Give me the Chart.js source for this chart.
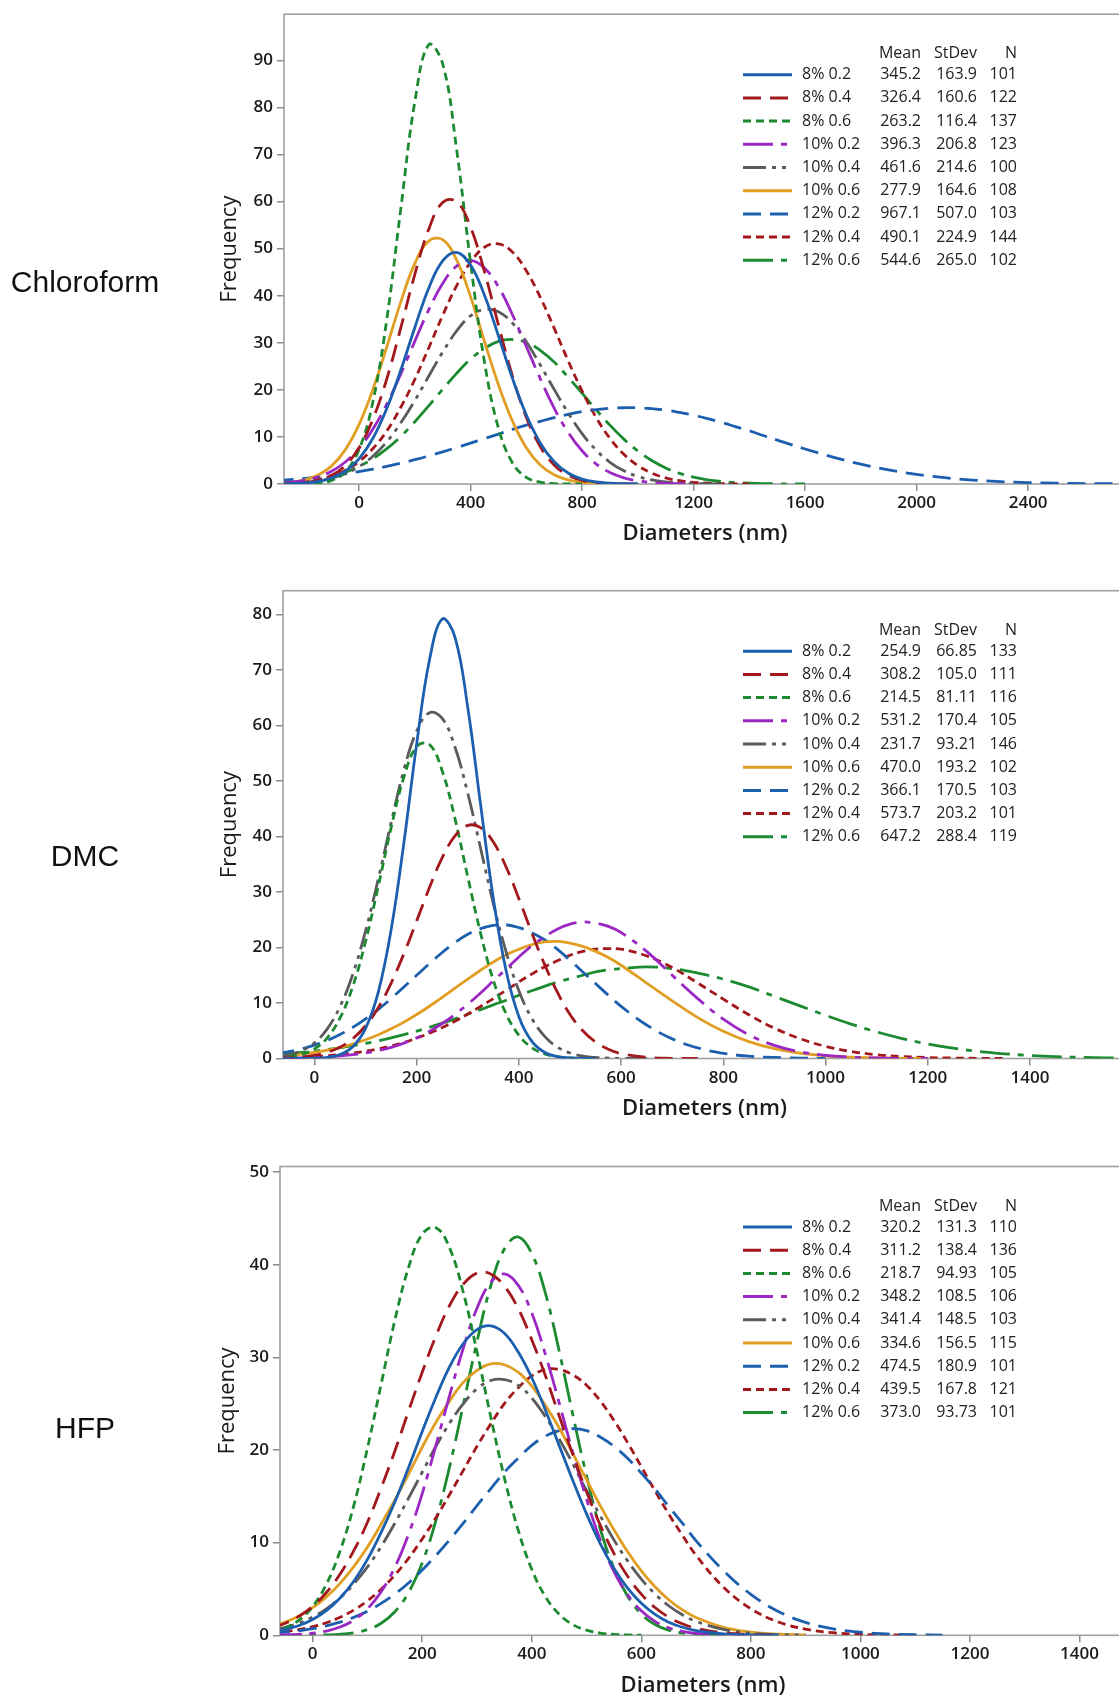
<!DOCTYPE html>
<html>
<head>
<meta charset="utf-8">
<script src="https://cdn.jsdelivr.net/npm/chart.js@4.4.0/dist/chart.umd.min.js"></script>
<style>
	html, body { margin: 0; padding: 0; background: #fff; overflow: hidden; }
	body { position: relative; width: 1119px; height: 1699px; }
	canvas { position: absolute; left: 0; }
	.solvent {
		position: absolute; left: 85px; transform: translateX(-50%); z-index: 2;
		font: 30px "Liberation Sans", Arial, sans-serif; line-height: 30px; color: #111; white-space: nowrap;
	}
</style>
</head>
<body>
<div class="solvent" style="top:267px">Chloroform</div>
<div class="solvent" style="top:841px">DMC</div>
<div class="solvent" style="top:1413px">HFP</div>
<canvas id="chlChart" width="1126" height="560" style="top:0px"></canvas>
<canvas id="dmcChart" width="1126" height="560" style="top:575px"></canvas>
<canvas id="hfpChart" width="1126" height="549" style="top:1150px"></canvas>
<script>
const seriesLabels = ['8% 0.2', '8% 0.4', '8% 0.6', '10% 0.2', '10% 0.4', '10% 0.6', '12% 0.2', '12% 0.4', '12% 0.6'];

// Chloroform: diameters (nm) where the fitted curves were read, and the curve heights
const chlX = [-300, -250, -200, -150, -100, -50, 0, 50, 100, 150, 200, 250, 300, 350, 400, 450, 500, 550, 600, 650,
	700, 750, 800, 850, 900, 950, 1000, 1050, 1100, 1150, 1200, 1250, 1300, 1350, 1400, 1450, 1500, 1550, 1600,
	1700, 1800, 1900, 2000, 2100, 2200, 2300, 2400, 2500, 2600, 2700, 2800];
const chl8_02 = [0.02, 0.07, 0.19, 0.52, 1.23, 2.68, 5.35, 9.71, 16.1, 24.2, 33.2, 41.6, 47.4, 49.2, 46.5, 40.1, 31.5, 22.5, 14.7, 8.72, 4.72, 2.33, 1.05, 0.43, 0.16, 0.05, 0];
const chl8_04 = [0.03, 0.10, 0.28, 0.74, 1.78, 3.89, 7.69, 13.8, 22.4, 33.2, 44.5, 54.1, 59.8, 60.0, 54.6, 45.1, 33.8, 23.0, 14.2, 7.96, 4.05, 1.87, 0.78, 0.30, 0.10, 0.03, 0];
const chl8_06 = [0, 0.01, 0.03, 0.17, 0.72, 2.51, 7.29, 17.5, 35.1, 58.5, 81.1, 93.3, 89.3, 71.1, 47.1, 25.9, 11.9, 4.52, 1.43, 0.38, 0.08, 0.01, 0];
const chl10_02 = [0.16, 0.36, 0.74, 1.45, 2.66, 4.63, 7.57, 11.7, 17.0, 23.4, 30.3, 37.0, 42.6, 46.3, 47.5, 45.9, 41.9, 36.0, 29.2, 22.4, 16.1, 11.0, 7.06, 4.28, 2.44, 1.32, 0.67, 0.32, 0.15, 0.06, 0.02];
const chl10_04 = [0.07, 0.15, 0.32, 0.64, 1.21, 2.17, 3.68, 5.91, 8.99, 13.0, 17.7, 22.9, 28.0, 32.5, 35.7, 37.1, 36.6, 34.2, 30.2, 25.3, 20.1, 15.1, 10.7, 7.23, 4.61, 2.79, 1.60, 0.87, 0.45, 0.22, 0.10, 0.04, 0.02, 0];
const chl10_06 = [0.11, 0.31, 0.77, 1.79, 3.75, 7.20, 12.6, 20.1, 29.2, 38.7, 46.8, 51.6, 51.9, 47.6, 39.8, 30.3, 21.1, 13.4, 7.72, 4.06, 1.96, 0.86, 0.34, 0.12, 0.04, 0];
const chl12_02 = [0.71, 0.91, 1.15, 1.43, 1.77, 2.17, 2.63, 3.16, 3.75, 4.42, 5.16, 5.96, 6.82, 7.73, 8.68, 9.64, 10.6, 11.6, 12.5, 13.3,
	14.1, 14.8, 15.4, 15.8, 16.1, 16.2, 16.2, 16.0, 15.7, 15.2, 14.6, 13.9, 13.1, 12.2, 11.3, 10.3, 9.33, 8.37, 7.44,
	5.71, 4.20, 2.98, 2.04, 1.34, 0.84, 0.51, 0.30, 0.17, 0.09, 0.05, 0.02];
const chl12_04 = [0.11, 0.23, 0.46, 0.89, 1.63, 2.86, 4.76, 7.53, 11.3, 16.3, 22.2, 28.9, 35.8, 42.1, 47.1, 50.3, 51.0, 49.3, 45.3, 39.7, 33.1, 26.2, 19.8, 14.2, 9.70, 6.31, 3.91, 2.30, 1.29, 0.69, 0.35, 0.17, 0.08, 0.03, 0];
const chl12_06 = [0.19, 0.34, 0.59, 0.99, 1.60, 2.48, 3.72, 5.38, 7.51, 10.1, 13.2, 16.6, 20.1, 23.5, 26.5, 28.8, 30.3, 30.7, 30.1, 28.4, 25.9, 22.7, 19.3, 15.8, 12.5, 9.53, 7.01, 4.98, 3.41, 2.26, 1.44, 0.89, 0.53, 0.30, 0.17, 0.09, 0.05, 0.02, 0.01];
const chlMean = ['345.2', '326.4', '263.2', '396.3', '461.6', '277.9', '967.1', '490.1', '544.6'];
const chlStDev = ['163.9', '160.6', '116.4', '206.8', '214.6', '164.6', '507.0', '224.9', '265.0'];
const chlN = ['101', '122', '137', '123', '100', '108', '103', '144', '102'];

// DMC
const dmcX = [-75, -50, -25, 0, 25, 50, 75, 100, 125, 150, 175, 200, 225, 250, 275, 300, 325, 350, 375, 400, 425, 450, 475, 500, 525, 550, 575, 600,
	650, 700, 750, 800, 850, 900, 950, 1000, 1050, 1100, 1150, 1200, 1250, 1300, 1350, 1400, 1450, 1500, 1550, 1600];
const dmc8_02 = [0, 0, 0.01, 0.06, 0.21, 0.72, 2.12, 5.42, 12.0, 23.2, 38.9, 56.7, 71.8, 79.2, 75.9, 63.2, 45.8, 28.8, 15.8, 7.54, 3.12, 1.12, 0.35, 0.10, 0.02, 0];
const dmc8_04 = [0.05, 0.13, 0.27, 0.57, 1.11, 2.05, 3.58, 5.90, 9.19, 13.6, 18.9, 24.8, 30.8, 36.2, 40.1, 42.0, 41.6, 39.0, 34.5, 28.8, 22.7, 17.0, 12.0, 7.94, 5.00, 2.97, 1.67, 0.89, 0.21, 0.04, 0];
const dmc8_06 = [0.10, 0.28, 0.73, 1.73, 3.73, 7.30, 13.0, 21.1, 31.1, 41.6, 50.7, 56.2, 56.6, 51.8, 43.2, 32.7, 22.6, 14.1, 8.05, 4.18, 1.97, 0.84, 0.33, 0.12, 0.04, 0];
const dmc10_02 = [0.04, 0.07, 0.12, 0.19, 0.30, 0.46, 0.68, 1.00, 1.44, 2.01, 2.77, 3.72, 4.89, 6.30, 7.94, 9.79, 11.8, 14.0, 16.1, 18.3, 20.3, 21.9, 23.3, 24.2, 24.6, 24.4, 23.8, 22.7,
	19.3, 15.0, 10.8, 7.08, 4.27, 2.36, 1.20, 0.56, 0.24, 0.09, 0.03, 0];
const dmc10_04 = [0.28, 0.65, 1.41, 2.84, 5.34, 9.35, 15.2, 23.0, 32.4, 42.5, 52.0, 59.0, 62.3, 61.3, 56.1, 47.8, 37.9, 27.9, 19.2, 12.2, 7.27, 4.03, 2.07, 0.99, 0.44, 0.18, 0.07, 0.03, 0];
const dmc10_06 = [0.39, 0.56, 0.79, 1.09, 1.49, 1.98, 2.61, 3.37, 4.27, 5.35, 6.56, 7.93, 9.42, 11.0, 12.7, 14.3, 15.9, 17.4, 18.7, 19.7, 20.5, 21.0, 21.1, 20.8, 20.2, 19.3, 18.2, 16.8,
	13.6, 10.4, 7.37, 4.90, 3.04, 1.77, 0.96, 0.49, 0.23, 0.10, 0.04, 0.02];
const dmc12_02 = [0.85, 1.23, 1.74, 2.41, 3.26, 4.32, 5.61, 7.14, 8.87, 10.8, 12.9, 15.0, 17.1, 19.1, 20.9, 22.4, 23.4, 24.0, 24.1, 23.6, 22.7, 21.4, 19.7, 17.7, 15.6, 13.5, 11.4, 9.40,
	6.03, 3.54, 1.91, 0.94, 0.43, 0.18, 0.07, 0.02];
const dmc12_04 = [0.12, 0.18, 0.26, 0.37, 0.52, 0.72, 0.98, 1.31, 1.73, 2.25, 2.89, 3.66, 4.55, 5.57, 6.73, 8.01, 9.38, 10.8, 12.3, 13.8, 15.2, 16.5, 17.6, 18.6, 19.3, 19.7, 19.8, 19.7,
	18.5, 16.4, 13.6, 10.7, 7.88, 5.47, 3.57, 2.20, 1.27, 0.69, 0.36, 0.17, 0.08, 0.03, 0.01];
const dmc12_06 = [0.72, 0.89, 1.09, 1.33, 1.61, 1.93, 2.30, 2.72, 3.19, 3.72, 4.30, 4.94, 5.63, 6.37, 7.15, 7.97, 8.81, 9.67, 10.5, 11.4, 12.2, 13.0, 13.8, 14.4, 15.0, 15.6, 16.0, 16.2,
	16.5, 16.2, 15.4, 14.3, 12.9, 11.2, 9.48, 7.79, 6.20, 4.80, 3.60, 2.62, 1.85, 1.27, 0.85, 0.55, 0.34, 0.21, 0.12, 0.07];
const dmcMean = ['254.9', '308.2', '214.5', '531.2', '231.7', '470.0', '366.1', '573.7', '647.2'];
const dmcStDev = ['66.85', '105.0', '81.11', '170.4', '93.21', '193.2', '170.5', '203.2', '288.4'];
const dmcN = ['133', '111', '116', '105', '146', '102', '103', '101', '119'];

// HFP
const hfpX = [-75, -50, -25, 0, 25, 50, 75, 100, 125, 150, 175, 200, 225, 250, 275, 300, 325, 350, 375, 400, 425, 450, 475, 500, 525, 550, 575, 600, 625, 650, 675, 700,
	750, 800, 850, 900, 950, 1000, 1050, 1100, 1150, 1200];
const hfp8_02 = [0.36, 0.63, 1.06, 1.71, 2.66, 4.02, 5.84, 8.19, 11.1, 14.4, 18.1, 22.0, 25.7, 29.0, 31.5, 33.0, 33.4, 32.6, 30.6, 27.8, 24.3, 20.5, 16.7, 13.1, 9.90, 7.23, 5.08, 3.45, 2.26, 1.42, 0.87, 0.51, 0.16, 0.04, 0.01];
const hfp8_04 = [0.80, 1.30, 2.05, 3.12, 4.62, 6.61, 9.13, 12.2, 15.9, 19.9, 24.2, 28.4, 32.3, 35.6, 37.9, 39.1, 39.0, 37.7, 35.3, 31.9, 28.0, 23.7, 19.5, 15.5, 11.9, 8.84, 6.38, 4.44, 3.00, 1.96, 1.24, 0.76, 0.26, 0.08, 0.02];
const hfp8_06 = [0.37, 0.80, 1.64, 3.11, 5.51, 9.10, 14.0, 20.2, 27.1, 34.0, 39.7, 43.3, 44.0, 41.8, 37.0, 30.6, 23.6, 17.0, 11.4, 7.12, 4.16, 2.27, 1.15, 0.55, 0.24, 0.10, 0.04, 0.01];
const hfp10_02 = [0.02, 0.05, 0.10, 0.23, 0.46, 0.89, 1.64, 2.85, 4.70, 7.34, 10.9, 15.3, 20.5, 25.9, 31.0, 35.3, 38.1, 39.0, 37.8, 34.8, 30.3, 25.1, 19.7, 14.7, 10.3, 6.91, 4.39, 2.64, 1.50, 0.81, 0.42, 0.20, 0.04, 0.01];
const hfp10_04 = [0.54, 0.86, 1.32, 1.97, 2.86, 4.04, 5.54, 7.38, 9.58, 12.1, 14.8, 17.6, 20.4, 22.9, 25.0, 26.6, 27.5, 27.6, 27.0, 25.6, 23.6, 21.2, 18.5, 15.6, 12.9, 10.3, 8.03, 6.07, 4.47, 3.19, 2.21, 1.50, 0.63, 0.23, 0.08, 0.02];
const hfp10_06 = [0.96, 1.43, 2.09, 2.98, 4.15, 5.61, 7.41, 9.53, 12.0, 14.6, 17.4, 20.3, 23.0, 25.3, 27.3, 28.6, 29.3, 29.2, 28.4, 26.9, 24.8, 22.4, 19.6, 16.8, 14.0, 11.4, 9.01, 6.96, 5.24, 3.84, 2.75, 1.92, 0.86, 0.35, 0.13, 0.04];
const hfp12_02 = [0.22, 0.34, 0.49, 0.71, 1.02, 1.42, 1.94, 2.61, 3.45, 4.46, 5.65, 7.04, 8.61, 10.3, 12.1, 14.0, 15.8, 17.6, 19.1, 20.5, 21.5, 22.1, 22.3, 22.1, 21.4, 20.4, 19.1, 17.5, 15.8, 13.9, 12.1, 10.2,
	6.98, 4.42, 2.58, 1.40, 0.70, 0.33, 0.14, 0.06, 0.02];
const hfp12_04 = [0.26, 0.41, 0.62, 0.93, 1.36, 1.94, 2.72, 3.72, 4.97, 6.50, 8.31, 10.4, 12.7, 15.2, 17.8, 20.4, 22.8, 25.0, 26.7, 28.0, 28.7, 28.7, 28.1, 27.0, 25.3, 23.2, 20.8, 18.2, 15.6, 13.1, 10.8, 8.63,
	5.20, 2.87, 1.44, 0.67, 0.28, 0.11, 0.04, 0.01];
const hfp12_06 = [0, 0, 0.01, 0.02, 0.04, 0.11, 0.28, 0.62, 1.30, 2.54, 4.61, 7.82, 12.4, 18.2, 24.9, 31.7, 37.7, 41.7, 43.0, 41.2, 36.9, 30.7, 23.8, 17.2, 11.5, 7.24, 4.22, 2.29, 1.16, 0.55, 0.24, 0.10, 0.01];
const hfpMean = ['320.2', '311.2', '218.7', '348.2', '341.4', '334.6', '474.5', '439.5', '373.0'];
const hfpStDev = ['131.3', '138.4', '94.93', '108.5', '148.5', '156.5', '180.9', '167.8', '93.73'];
const hfpN = ['110', '136', '105', '106', '103', '115', '101', '121', '101'];

// Minitab-like line styles, same order as seriesLabels
const lineStyles = [
	{ color: '#1c5fae', dash: [] },
	{ color: '#a3181d', dash: [18, 9] },
	{ color: '#1c8a30', dash: [8, 5] },
	{ color: '#9b27c4', dash: [30, 8, 6, 8] },
	{ color: '#5b5b5b', dash: [23, 6, 4, 6, 4, 6] },
	{ color: '#e09e22', dash: [] },
	{ color: '#1c5fae', dash: [18, 9] },
	{ color: '#a3181d', dash: [8, 5] },
	{ color: '#1c8a30', dash: [30, 8, 6, 8] },
];

const frame = {
	id: 'frame',
	beforeDatasetsDraw(chart) {
		const { left, top, right, bottom } = chart.chartArea;
		const ctx = chart.ctx;
		ctx.save();
		ctx.strokeStyle = '#a0a0a0';
		ctx.lineWidth = 1.6;
		ctx.strokeRect(left, top, right - left, bottom - top);
		ctx.restore();
	},
};

// legend with Mean / StDev / N table, like the Minitab one
const statTable = {
	id: 'statTable',
	afterDraw(chart, args, opts) {
		const ctx = chart.ctx;
		const top = chart.chartArea.top;
		ctx.save();
		ctx.font = '16px "Open Sans"';
		ctx.fillStyle = '#222';
		ctx.textBaseline = 'middle';
		ctx.textAlign = 'right';
		ctx.fillText('Mean', 921, top + 39.5);
		ctx.fillText('StDev', 977, top + 39.5);
		ctx.fillText('N', 1017, top + 39.5);
		chart.data.datasets.forEach((ds, i) => {
			const y = top + 60.5 + i * 23.2;
			ctx.strokeStyle = ds.borderColor;
			ctx.lineWidth = 3;
			ctx.setLineDash(ds.borderDash);
			ctx.beginPath();
			ctx.moveTo(743, y);
			ctx.lineTo(792, y);
			ctx.stroke();
			ctx.setLineDash([]);
			ctx.textAlign = 'left';
			ctx.fillText(ds.label, 802, y);
			ctx.textAlign = 'right';
			ctx.fillText(opts.mean[i], 921, y);
			ctx.fillText(opts.sd[i], 977, y);
			ctx.fillText(opts.n[i], 1017, y);
		});
		ctx.restore();
	},
};

const tickFont = { family: 'Open Sans', size: 17, weight: '600' };

function buildPanel(id, xs, curves, table, box) {
	const canvas = document.getElementById(id);
	const H = canvas.height;
	return new Chart(canvas, {
		type: 'line',
		data: {
			datasets: curves.map((ys, i) => ({
				label: seriesLabels[i],
				data: ys.map((y, j) => ({ x: xs[j], y: y })),
				borderColor: lineStyles[i].color,
				borderDash: lineStyles[i].dash,
				borderWidth: 2.8,
				pointRadius: 0,
				fill: false,
				tension: 0.4,
			})),
		},
		options: {
			responsive: false,
			animation: false,
			layout: { padding: { top: box.areaTop - box.top, left: 0, right: 0, bottom: 0 } },
			plugins: {
				legend: { display: false },
				tooltip: { enabled: false },
				statTable: table,
			},
			scales: {
				x: {
					type: 'linear',
					min: box.xMin,
					max: box.xMax,
					afterFit: (s) => { s.height = box.top + H - box.areaBottom; },
					ticks: {
						stepSize: box.xStep, includeBounds: false, autoSkip: false, maxRotation: 0, padding: 2,
						font: tickFont, color: '#1a1a1a', callback: (v) => String(v),
					},
					grid: { drawOnChartArea: false, tickLength: 7, color: '#8c8c8c', lineWidth: 1.5 },
					border: { display: false },
					title: {
						display: true,
						text: 'Diameters (nm)',
						color: '#1a1a1a',
						font: { family: 'Open Sans', size: 22, weight: '600' },
						padding: { top: 0, bottom: box.top + H - box.titleY - 13.2 },
					},
				},
				y: {
					min: 0,
					max: box.yMax,
					afterFit: (s) => { s.width = box.areaLeft; },
					ticks: { stepSize: 10, includeBounds: false, padding: 4, font: tickFont, color: '#1a1a1a', callback: (v) => String(v) },
					grid: { drawOnChartArea: false, tickLength: 7, color: '#8c8c8c', lineWidth: 1.5 },
					border: { display: false },
					title: {
						display: true,
						text: 'Frequency',
						color: '#1a1a1a',
						font: { family: 'Open Sans', size: 22, weight: '400' },
						padding: { top: box.titleX - 13.2, bottom: 0 },
					},
				},
			},
		},
		plugins: [frame, statTable],
	});
}

let charts = [];
charts.push(buildPanel('chlChart', chlX,
	[chl8_02, chl8_04, chl8_06, chl10_02, chl10_04, chl10_06, chl12_02, chl12_04, chl12_06],
	{ mean: chlMean, sd: chlStDev, n: chlN },
	{ top: 0, areaLeft: 284, areaTop: 13.8, areaBottom: 484, titleX: 230, titleY: 534, xMin: -269, xMax: 2751, xStep: 400, yMax: 99.8 }));
charts.push(buildPanel('dmcChart', dmcX,
	[dmc8_02, dmc8_04, dmc8_06, dmc10_02, dmc10_04, dmc10_06, dmc12_02, dmc12_04, dmc12_06],
	{ mean: dmcMean, sd: dmcStDev, n: dmcN },
	{ top: 575, areaLeft: 283, areaTop: 590.7, areaBottom: 1058.5, titleX: 230, titleY: 1109, xMin: -61.6, xMax: 1588, xStep: 200, yMax: 84.3 }));
charts.push(buildPanel('hfpChart', hfpX,
	[hfp8_02, hfp8_04, hfp8_06, hfp10_02, hfp10_04, hfp10_06, hfp12_02, hfp12_04, hfp12_06],
	{ mean: hfpMean, sd: hfpStDev, n: hfpN },
	{ top: 1150, areaLeft: 280, areaTop: 1166.5, areaBottom: 1635.3, titleX: 228, titleY: 1686, xMin: -59.7, xMax: 1485, xStep: 200, yMax: 50.6 }));
</script>
</body>
</html>
